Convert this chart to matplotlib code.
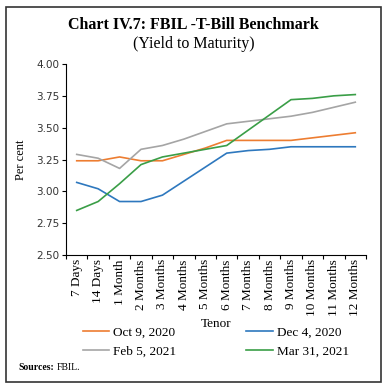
import matplotlib
matplotlib.use('Agg')
import matplotlib.pyplot as plt
from matplotlib.patches import Rectangle
from matplotlib.ticker import FixedLocator, NullFormatter, FormatStrFormatter

tenors = ['7 Days', '14 Days', '1 Month', '2 Months', '3 Months', '4 Months', '5 Months',
          '6 Months', '7 Months', '8 Months', '9 Months', '10 Months', '11 Months', '12 Months']

oct_9_2020 = [3.24, 3.24, 3.27, 3.24, 3.24, 3.29, 3.34, 3.40, 3.40, 3.40, 3.40, 3.42, 3.44, 3.46]
dec_4_2020 = [3.07, 3.02, 2.92, 2.92, 2.97, 3.08, 3.19, 3.30, 3.32, 3.33, 3.35, 3.35, 3.35, 3.35]
feb_5_2021 = [3.29, 3.26, 3.18, 3.33, 3.36, 3.41, 3.47, 3.53, 3.55, 3.57, 3.59, 3.62, 3.66, 3.70]
mar_31_2021 = [2.85, 2.92, 3.06, 3.21, 3.27, 3.30, 3.33, 3.36, 3.48, 3.60, 3.72, 3.73, 3.75, 3.76]

serif = 'Liberation Serif'
W, H = 387, 390

fig = plt.figure(figsize=(W / 100, H / 100), dpi=100)
ax = fig.add_axes([66 / W, (H - 255) / H, 300 / W, 191 / H])

x = range(len(tenors))
l_oct, = ax.plot(x, oct_9_2020, color='#ED7D31', lw=1.2, label='Oct 9, 2020')
l_dec, = ax.plot(x, dec_4_2020, color='#2E78BE', lw=1.2, label='Dec 4, 2020')
l_feb, = ax.plot(x, feb_5_2021, color='#A5A5A5', lw=1.2, label='Feb 5, 2021')
l_mar, = ax.plot(x, mar_31_2021, color='#3A9E47', lw=1.2, label='Mar 31, 2021')

ax.set_xlim(-0.5, len(tenors) - 0.5)
ax.set_ylim(2.5, 4.0)
ax.set_yticks([2.5, 2.75, 3.0, 3.25, 3.5, 3.75, 4.0])
ax.yaxis.set_major_formatter(FormatStrFormatter('%.2f'))

# boundary ticks, labels in the middle of each category
ax.xaxis.set_major_locator(FixedLocator([i - 0.5 for i in range(len(tenors) + 1)]))
ax.xaxis.set_major_formatter(NullFormatter())
ax.xaxis.set_minor_locator(FixedLocator(list(x)))
ax.set_xticklabels(tenors, minor=True, rotation=90, fontfamily=serif, fontsize=9.5)
ax.tick_params(axis='x', which='major', length=3, width=0.8)
ax.tick_params(axis='x', which='minor', length=0, pad=3)
ax.tick_params(axis='y', length=3, width=0.8, pad=2, labelsize=7.5, labelcolor='#333333')

for s in ['top', 'right']:
    ax.spines[s].set_visible(False)
for s in ['left', 'bottom']:
    ax.spines[s].set_linewidth(0.8)

ax.set_ylabel('Per cent', fontfamily=serif, fontsize=9, labelpad=6)
ax.set_xlabel('Tenor', fontfamily=serif, fontsize=9.5, labelpad=1)

fig.legend(handles=[l_oct, l_feb, l_dec, l_mar], ncol=2, loc='upper center',
           bbox_to_anchor=(216 / W, 1 - 315 / H), frameon=False,
           prop={'family': serif, 'size': 9.5}, handlelength=2.0, handletextpad=0.3,
           columnspacing=5.3, labelspacing=0.5)

fig.text(0.5, 1 - 25 / H, 'Chart IV.7: FBIL -T-Bill Benchmark', ha='center', va='center',
         fontfamily=serif, fontsize=11.5, fontweight='bold')
fig.text(0.5, 1 - 44 / H, '(Yield to Maturity)', ha='center', va='center',
         fontfamily=serif, fontsize=11.5)

src = fig.text(18 / W, 1 - 368 / H, 'Sources:', ha='left', va='center',
               fontfamily=serif, fontsize=7, fontweight='bold')
fig.canvas.draw()
bb = src.get_window_extent(fig.canvas.get_renderer())
fig.text((bb.x1 + 3) / W, 1 - 368 / H, 'FBIL.', ha='left', va='center',
         fontfamily=serif, fontsize=7)

fig.patches.append(Rectangle((6 / W, 1 - 382 / H), 375 / W, 375 / H, transform=fig.transFigure,
                             fill=False, edgecolor='#333333', linewidth=1.2))

fig.savefig('out.png', dpi=100)
